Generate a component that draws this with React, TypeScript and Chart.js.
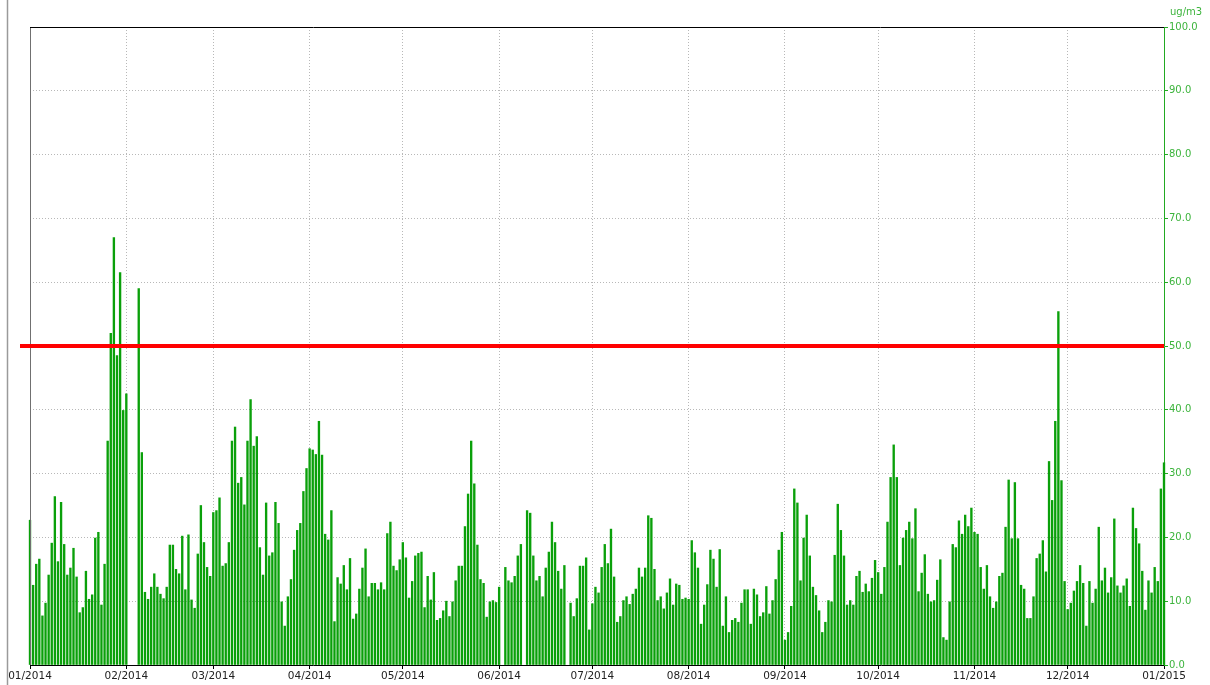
import React, { useEffect, useRef } from "react";
import { Chart, registerables } from "chart.js";

Chart.register(...registerables);

// Daily PM values (ug/m3), 01/01/2014 .. 01/01/2015; null = no measurement
const jan2014 = [22.7, 12.5, 15.8, 16.6, 7.7, 9.7, 14.1, 19.1, 26.4, 16.2, 25.5, 18.9, 14.1, 15.2, 18.3, 13.8, 8.2, 9.0, 14.7, 10.3, 11.0, 19.9, 20.8, 9.4, 15.8, 35.1, 52.0, 67.0, 48.5, 61.5, 39.9];
const feb2014 = [42.5, null, null, null, 59.0, 33.3, 11.4, 10.3, 12.2, 14.3, 12.2, 11.1, 10.4, 12.2, 18.8, 18.8, 15.0, 14.3, 20.2, 11.8, 20.4, 10.2, 8.9, 17.4, 25.0, 19.2, 15.3, 13.9];
const mar2014 = [23.9, 24.2, 26.2, 15.5, 15.9, 19.2, 35.1, 37.3, 28.5, 29.4, 25.1, 35.1, 41.6, 34.3, 35.8, 18.4, 14.1, 25.4, 17.1, 17.6, 25.5, 22.2, 9.9, 6.1, 10.7, 13.4, 18.0, 21.1, 22.2, 27.2, 30.8];
const apr2014 = [33.9, 33.7, 33.0, 38.2, 32.9, 20.5, 19.6, 24.2, 6.8, 13.7, 12.7, 15.6, 11.8, 16.7, 7.2, 8.0, 11.9, 15.2, 18.2, 10.7, 12.8, 12.8, 11.8, 12.9, 11.8, 20.6, 22.4, 15.5, 14.8, 16.5];
const may2014 = [19.2, 16.8, 10.5, 13.1, 17.1, 17.5, 17.7, 9.0, 13.9, 10.2, 14.5, 7.0, 7.3, 8.5, 10.0, 7.6, 9.9, 13.2, 15.5, 15.5, 21.7, 26.8, 35.1, 28.4, 18.8, 13.4, 12.8, 7.5, 9.9, 10.1, 9.8];
const jun2014 = [12.2, null, 15.3, 13.2, 12.9, 13.9, 17.1, 18.9, null, 24.2, 23.8, 17.1, 13.2, 13.9, 10.7, 15.2, 17.7, 22.4, 19.2, 14.7, 11.9, 15.6, null, 9.7, 7.6, 10.4, 15.5, 15.5, 16.8, 5.5];
const jul2014 = [9.6, 12.2, 11.3, 15.3, 18.9, 15.9, 21.3, 13.8, 6.7, 7.6, 10.1, 10.7, 9.5, 11.1, 11.9, 15.2, 13.8, 15.2, 23.4, 23.0, 15.0, 10.1, 10.7, 8.8, 11.3, 13.5, 9.4, 12.7, 12.5, 10.3, 10.5];
const aug2014 = [10.3, 19.5, 17.6, 15.2, 6.4, 9.4, 12.6, 18.0, 16.6, 12.2, 18.1, 6.1, 10.7, 5.1, 7.0, 7.3, 6.7, 9.7, 11.8, 11.8, 6.4, 11.9, 11.0, 7.6, 8.2, 12.3, 8.0, 10.1, 13.4, 18.0, 20.8];
const sep2014 = [3.9, 5.1, 9.2, 27.6, 25.4, 13.2, 19.9, 23.5, 17.1, 12.2, 10.9, 8.5, 5.1, 6.7, 10.1, 9.9, 17.2, 25.2, 21.1, 17.1, 9.4, 10.1, 9.4, 13.9, 14.7, 11.4, 12.7, 11.5, 13.6, 16.4];
const oct2014 = [14.5, 11.1, 15.3, 22.4, 29.4, 34.5, 29.4, 15.6, 19.9, 21.1, 22.4, 19.8, 24.5, 11.5, 14.4, 17.3, 11.1, 9.9, 10.1, 13.3, 16.5, 4.3, 3.9, 9.9, 18.9, 18.4, 22.6, 20.5, 23.5, 21.7, 24.6];
const nov2014 = [20.8, 20.5, 15.3, 11.9, 15.6, 10.7, 8.9, 9.9, 13.9, 14.4, 21.6, 29.0, 19.8, 28.6, 19.8, 12.5, 11.9, 7.3, 7.3, 10.7, 16.7, 17.4, 19.5, 14.6, 31.9, 25.8, 38.2, 55.4, 28.9, 13.1];
const dec2014 = [8.7, 9.7, 11.6, 13.1, 15.6, 12.8, 6.1, 13.1, 9.7, 11.9, 21.6, 13.2, 15.2, 11.3, 13.7, 22.9, 12.4, 11.3, 12.4, 13.5, 9.2, 24.6, 21.4, 19.0, 14.7, 8.6, 13.2, 11.3, 15.3, 13.1, 27.6];
const jan2015 = [31.7];

const monthLabels = ["01/2014", "02/2014", "03/2014", "04/2014", "05/2014", "06/2014", "07/2014", "08/2014", "09/2014", "10/2014", "11/2014", "12/2014", "01/2015"];
const monthLengths = [31, 28, 31, 30, 31, 30, 31, 31, 30, 31, 30, 31];
const limitValue = 50;
const yMin = 0;
const yMax = 100;
const yStep = 10;
const unitLabel = "ug/m3";

const dailyValues: (number | null)[] = [
  ...jan2014, ...feb2014, ...mar2014, ...apr2014, ...may2014, ...jun2014,
  ...jul2014, ...aug2014, ...sep2014, ...oct2014, ...nov2014, ...dec2014, ...jan2015,
];

const monthStarts: number[] = monthLengths.reduce(
  (acc, len) => { acc.push(acc[acc.length - 1] + len); return acc; },
  [0] as number[]
);

const GREEN = "#0aa00a";
const AXIS_GREEN = "#22aa22";
const LABEL_GREEN = "#3cb43c";
const GRID = "#b8b8b8";
const FONT = "DejaVu Sans";

const decorPlugin = {
  id: "decor",
  beforeDraw(chart: any) {
    const { ctx, height } = chart;
    ctx.save();
    ctx.strokeStyle = "#9a9a9a";
    ctx.lineWidth = 1.5;
    ctx.beginPath();
    ctx.moveTo(7.5, 0);
    ctx.lineTo(7.5, height);
    ctx.stroke();
    ctx.restore();
  },
  afterDatasetsDraw(chart: any) {
    const { ctx, chartArea, scales } = chart;
    const y = scales.y;
    ctx.save();
    ctx.strokeStyle = "#707070";
    ctx.lineWidth = 1;
    ctx.beginPath();
    ctx.moveTo(chartArea.left + 0.5, chartArea.top);
    ctx.lineTo(chartArea.left + 0.5, chartArea.bottom);
    ctx.stroke();
    ctx.strokeStyle = "#000";
    ctx.beginPath();
    ctx.moveTo(chartArea.left, chartArea.top + 0.5);
    ctx.lineTo(chartArea.right, chartArea.top + 0.5);
    ctx.stroke();
    const ly = y.getPixelForValue(limitValue);
    ctx.strokeStyle = "#ff0000";
    ctx.lineWidth = 4;
    ctx.beginPath();
    ctx.moveTo(chartArea.left - 10, ly);
    ctx.lineTo(chartArea.right, ly);
    ctx.stroke();
    ctx.fillStyle = LABEL_GREEN;
    ctx.font = `10px "${FONT}"`;
    ctx.textAlign = "left";
    ctx.textBaseline = "middle";
    ctx.fillText(unitLabel, chartArea.right + 6, chartArea.top - 15);
    ctx.restore();
  },
};

export default function App() {
  const ref = useRef<HTMLCanvasElement>(null);

  useEffect(() => {
    if (!ref.current) return;
    const chart = new Chart(ref.current, {
      type: "bar",
      data: {
        datasets: [
          {
            data: dailyValues.map((v, i) => ({ x: i, y: v })) as any,
            backgroundColor: GREEN,
            borderWidth: 0,
            barThickness: 1.7,
            clip: false as any,
          },
        ],
      },
      options: {
        responsive: false,
        animation: false,
        devicePixelRatio: 1,
        layout: { padding: { left: 30, top: 27, right: 0, bottom: 0 } },
        plugins: {
          legend: { display: false },
          tooltip: { enabled: false },
        },
        scales: {
          x: {
            type: "linear",
            min: 0,
            max: monthStarts[monthStarts.length - 1],
            offset: false,
            afterBuildTicks: (s: any) => {
              s.ticks = monthStarts.map((v) => ({ value: v }));
            },
            afterFit: (s: any) => {
              s.height = 20;
            },
            ticks: {
              autoSkip: false,
              maxRotation: 0,
              minRotation: 0,
              padding: 1,
              color: "#222",
              font: { family: FONT, size: 10.5 },
              callback: (_v: any, i: number) => monthLabels[i] ?? "",
            },
            grid: { offset: false, color: GRID, tickColor: "#000", tickLength: 4 },
            border: { display: true, color: "#000", width: 1, dash: [1, 2] },
          },
          y: {
            position: "right",
            min: yMin,
            max: yMax,
            afterFit: (s: any) => {
              s.width = 46;
            },
            ticks: {
              stepSize: yStep,
              color: LABEL_GREEN,
              padding: 1,
              font: { family: FONT, size: 10 },
              callback: (v: any) => Number(v).toFixed(1),
            },
            grid: { color: GRID, tickColor: AXIS_GREEN, tickLength: 4 },
            border: { display: true, color: AXIS_GREEN, width: 1, dash: [1, 2] },
          },
        },
      } as any,
      plugins: [decorPlugin],
    });
    return () => chart.destroy();
  }, []);

  return (
    <div style={{ position: "absolute", left: 0, top: 0, width: 1210, height: 685, background: "#fff" }}>
      <canvas ref={ref} width={1210} height={685} style={{ display: "block" }} />
    </div>
  );
}
